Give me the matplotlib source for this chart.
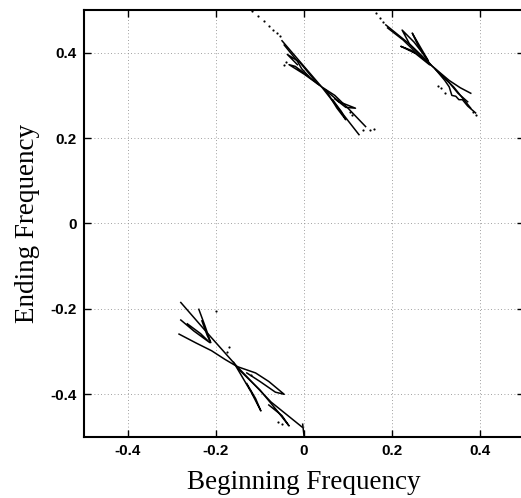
import matplotlib
matplotlib.use("Agg")
import matplotlib.pyplot as plt

plt.rcParams['axes.unicode_minus'] = False

# tick values / labels
ticks = [-0.4, -0.2, 0.0, 0.2, 0.4]
tick_labels = ['-0.4', '-0.2', '0', '0.2', '0.4']

# traced strokes (beginning freq, ending freq) for each of the three clusters
strokes_a = [
    [(-0.050, 0.428), (0.040, 0.320), (0.125, 0.208)],
    [(-0.045, 0.418), (-0.015, 0.380), (-0.005, 0.362), (0.015, 0.340), (0.040, 0.320),
     (0.070, 0.300), (0.100, 0.270), (0.140, 0.227)],
    [(0.035, 0.324), (0.000, 0.350), (-0.034, 0.372), (-0.020, 0.368), (0.010, 0.345)],
    [(0.045, 0.316), (0.080, 0.285), (0.117, 0.270), (0.095, 0.272), (0.070, 0.292)],
    [(0.050, 0.312), (0.075, 0.270), (0.095, 0.243), (0.085, 0.262), (0.065, 0.290)],
    [(0.030, 0.328), (-0.010, 0.378), (-0.038, 0.396), (-0.015, 0.372)],
]
strokes_b = [
    [(0.186, 0.465), (0.240, 0.420), (0.292, 0.368), (0.340, 0.320), (0.379, 0.270)],
    [(0.190, 0.458), (0.225, 0.430), (0.260, 0.395), (0.292, 0.368), (0.330, 0.335),
     (0.355, 0.318), (0.379, 0.305)],
    [(0.288, 0.372), (0.240, 0.420), (0.223, 0.453), (0.250, 0.425), (0.280, 0.385)],
    [(0.286, 0.374), (0.260, 0.415), (0.246, 0.446), (0.265, 0.412), (0.282, 0.382)],
    [(0.285, 0.372), (0.245, 0.405), (0.220, 0.415), (0.250, 0.400)],
    [(0.298, 0.362), (0.320, 0.335), (0.330, 0.320), (0.336, 0.300), (0.345, 0.298),
     (0.352, 0.290), (0.360, 0.290), (0.372, 0.275), (0.390, 0.259)],
    [(0.300, 0.360), (0.330, 0.330), (0.350, 0.305), (0.372, 0.285)],
]
strokes_c = [
    [(-0.280, -0.185), (-0.215, -0.262), (-0.152, -0.335), (-0.075, -0.418), (-0.004, -0.477)],
    [(-0.239, -0.201), (-0.225, -0.240), (-0.212, -0.279), (-0.220, -0.262), (-0.232, -0.228)],
    [(-0.280, -0.226), (-0.250, -0.252), (-0.214, -0.279), (-0.235, -0.258), (-0.265, -0.235)],
    [(-0.284, -0.259), (-0.245, -0.280), (-0.210, -0.298), (-0.180, -0.318), (-0.152, -0.335),
     (-0.110, -0.350), (-0.080, -0.370), (-0.045, -0.400), (-0.065, -0.395), (-0.100, -0.370),
     (-0.130, -0.350)],
    [(-0.160, -0.325), (-0.140, -0.360), (-0.120, -0.395), (-0.098, -0.439), (-0.110, -0.410),
     (-0.130, -0.375)],
    [(-0.150, -0.340), (-0.100, -0.390), (-0.060, -0.440), (-0.034, -0.474), (-0.050, -0.450),
     (-0.080, -0.425)],
    [(-0.003, -0.470), (0.000, -0.497)],
]
dots_a = [(-0.118, 0.498), (-0.105, 0.485), (-0.092, 0.475), (-0.080, 0.462), (-0.070, 0.452),
          (-0.062, 0.445), (-0.055, 0.438), (0.150, 0.220), (0.160, 0.222), (0.135, 0.218),
          (-0.040, 0.378), (-0.045, 0.372), (0.110, 0.255), (0.105, 0.262)]
dots_b = [(0.163, 0.492), (0.172, 0.482), (0.180, 0.472), (0.385, 0.262), (0.392, 0.255),
          (0.312, 0.318), (0.305, 0.322), (0.320, 0.305)]
dots_c = [(-0.175, -0.300), (-0.170, -0.290), (-0.060, -0.465), (-0.050, -0.470),
          (-0.120, -0.355), (-0.200, -0.205)]

fig = plt.figure(figsize=(5.21, 4.98), dpi=100)
ax = fig.add_axes([84 / 521, 61 / 498, 440 / 521, 427 / 498])

for strokes in (strokes_a, strokes_b, strokes_c):
    for s in strokes:
        xs = [p[0] for p in s]
        ys = [p[1] for p in s]
        ax.plot(xs, ys, color='black', lw=1.1)

for dots in (dots_a, dots_b, dots_c):
    ax.scatter([p[0] for p in dots], [p[1] for p in dots], s=2.5, color='black', lw=0)

ax.set_xlim(-0.5, 0.5)
ax.set_ylim(-0.5, 0.5)
ax.set_xticks(ticks)
ax.set_yticks(ticks)
ax.set_xticklabels(tick_labels, family='Liberation Sans', fontsize=11, fontweight='bold')
ax.set_yticklabels(tick_labels, family='Liberation Sans', fontsize=11, fontweight='bold')
ax.tick_params(direction='in', top=True, right=True, length=5, width=1, pad=5)
ax.grid(True, linestyle=(0, (1, 3)), color='gray', lw=0.6)
for sp in ax.spines.values():
    sp.set_linewidth(1.5)

ax.set_xlabel('Beginning Frequency', family='Liberation Serif', fontsize=19.5, labelpad=9)
ax.set_ylabel('Ending Frequency', family='Liberation Serif', fontsize=19.5, labelpad=8)

fig.savefig('out.png', dpi=100)
